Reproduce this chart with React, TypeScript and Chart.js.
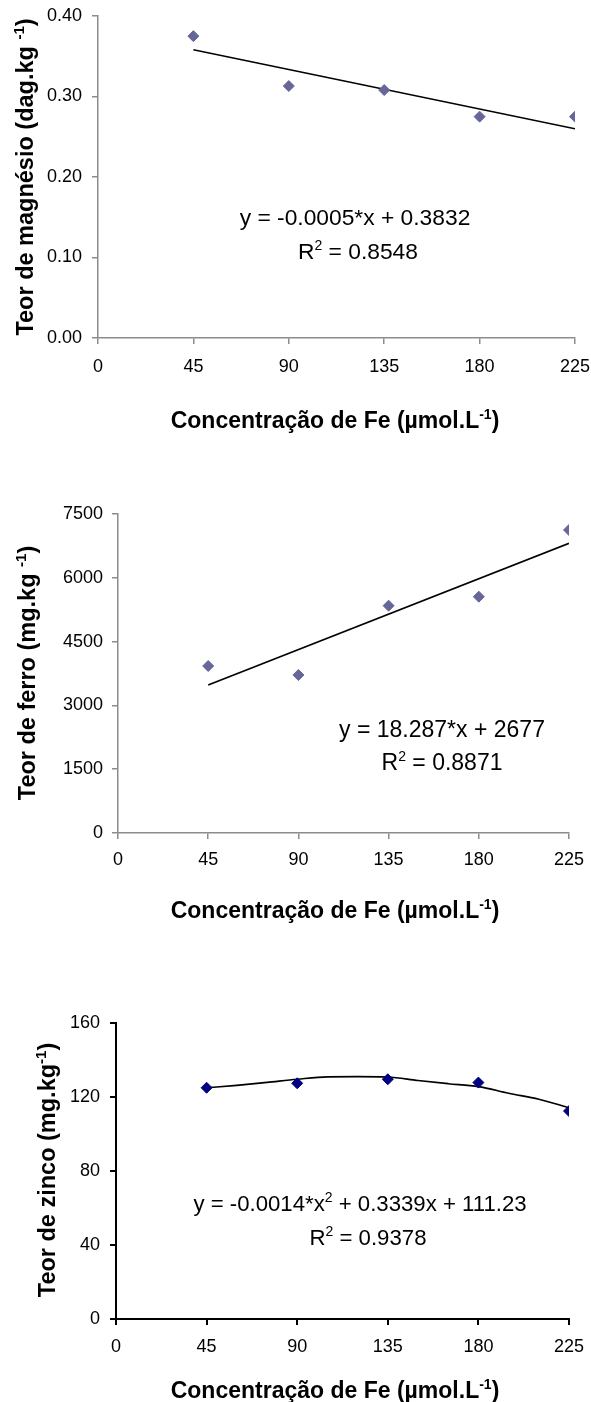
import React, { useEffect, useRef } from "react";
import { Chart, registerables } from "chart.js";

Chart.register(...registerables);

// ---------- data ----------
const feLevels = [45, 90, 135, 180, 225];

const magnesio = [0.375, 0.313, 0.308, 0.275, 0.275];
const magnesioTrendX = [45, 225];
const magnesioTrendY = [0.358, 0.26];

const ferro = [3926, 3715, 5344, 5556, 7124];
const ferroTrendX = [45, 225];
const ferroTrendY = [3480, 6811];

const zinco = [125.0, 127.4, 129.6, 127.8, 112.4];
const zincoCurveX = [45, 60, 75, 90, 105, 120, 135, 150, 165, 180, 195, 210, 225];
const zincoCurveY = [125.0, 126.3, 127.9, 129.6, 130.9, 131.0, 130.8, 128.9, 127.2, 125.6, 122.0, 118.8, 114.2];

const xTickLabels = ["0", "45", "90", "135", "180", "225"];
const magTickLabels = ["0.00", "0.10", "0.20", "0.30", "0.40"];
const ferroTickLabels = ["0", "1500", "3000", "4500", "6000", "7500"];
const zincoTickLabels = ["0", "40", "80", "120", "160"];

const eqMag = ["y = -0.0005*x + 0.3832", "0.8548"];
const eqFerro = ["y = 18.287*x + 2677", "0.8871"];
const eqZinco = ["y = -0.0014*x", " + 0.3339x + 111.23", "0.9378"];

// ---------- helpers ----------
const FAMILY = '"Liberation Sans", Arial, Helvetica, sans-serif';

type Seg = { t: string; sup?: boolean };
type RichItem = { segs: Seg[]; x: number; y: number; size: number; bold?: boolean; rotate?: boolean };

function drawRich(ctx: CanvasRenderingContext2D, item: RichItem) {
  const { segs, x, y, size, bold, rotate } = item;
  const supSize = Math.round(size * 0.62);
  const f = (s: number) => `${bold ? "bold " : ""}${s}px ${FAMILY}`;
  ctx.save();
  ctx.translate(x, y);
  if (rotate) ctx.rotate(-Math.PI / 2);
  let total = 0;
  const widths: number[] = [];
  for (const s of segs) {
    ctx.font = f(s.sup ? supSize : size);
    const w = ctx.measureText(s.t).width;
    widths.push(w);
    total += w;
  }
  let cx = -total / 2;
  const base = size * 0.358;
  ctx.fillStyle = "#000";
  ctx.textAlign = "left";
  ctx.textBaseline = "alphabetic";
  segs.forEach((s, i) => {
    ctx.font = f(s.sup ? supSize : size);
    ctx.fillText(s.t, cx, s.sup ? base - size * 0.42 : base);
    cx += widths[i];
  });
  ctx.restore();
}

type PanelCfg = {
  top: number;
  height: number;
  yWidth: number;
  xHeight: number;
  padTop: number;
  padRight: number;
  yMax: number;
  yStep: number;
  yLabels: string[];
  values: number[];
  lineX: number[];
  lineY: number[];
  smooth: boolean;
  markerColor: string;
  axisColor: string;
  axisWidth: number;
  xPad: number;
  yPad: number;
  texts: RichItem[];
};

function Panel({ cfg }: { cfg: PanelCfg }) {
  const ref = useRef<HTMLCanvasElement | null>(null);
  useEffect(() => {
    if (!ref.current) return;
    const textPlugin = {
      id: "richTexts",
      afterDraw(chart: any) {
        const ctx = chart.ctx as CanvasRenderingContext2D;
        for (const it of cfg.texts) drawRich(ctx, { ...it, y: it.y - cfg.top });
      },
    };
    const tickFont = { family: FAMILY, size: 18 };
    const chart = new Chart(ref.current, {
      type: "scatter",
      data: {
        datasets: [
          {
            data: feLevels.map((x, i) => ({ x, y: cfg.values[i] })),
            pointStyle: "rectRot",
            pointRadius: 5.5,
            pointBorderWidth: 1,
            backgroundColor: cfg.markerColor,
            borderColor: cfg.markerColor,
            showLine: false,
          },
          {
            data: cfg.lineX.map((x, i) => ({ x, y: cfg.lineY[i] })),
            showLine: true,
            pointRadius: 0,
            borderColor: "#000",
            borderWidth: 1.6,
            tension: cfg.smooth ? 0.4 : 0,
            cubicInterpolationMode: cfg.smooth ? "monotone" : "default",
          } as any,
        ],
      },
      options: {
        animation: false,
        responsive: false,
        events: [],
        layout: { padding: { top: cfg.padTop, right: cfg.padRight, left: 0, bottom: 0 } },
        plugins: { legend: { display: false }, tooltip: { enabled: false } },
        scales: {
          x: {
            type: "linear",
            min: 0,
            max: 225,
            afterFit: (s: any) => {
              s.height = cfg.xHeight;
              s.paddingLeft = 0;
              s.paddingRight = 0;
            },
            afterBuildTicks: (s: any) => {
              s.ticks = xTickLabels.map((l) => ({ value: Number(l) }));
            },
            ticks: {
              font: tickFont,
              color: "#000",
              padding: cfg.xPad,
              maxRotation: 0,
              autoSkip: false,
              callback: (_v: any, i: number) => xTickLabels[i],
            },
            grid: {
              drawOnChartArea: false,
              drawTicks: true,
              tickLength: 6,
              color: cfg.axisColor,
              lineWidth: cfg.axisWidth,
            },
            border: { color: cfg.axisColor, width: cfg.axisWidth },
          },
          y: {
            type: "linear",
            min: 0,
            max: cfg.yMax,
            afterFit: (s: any) => {
              s.width = cfg.yWidth;
              s.paddingTop = 0;
              s.paddingBottom = 0;
            },
            afterBuildTicks: (s: any) => {
              s.ticks = cfg.yLabels.map((_l, i) => ({ value: i * cfg.yStep }));
            },
            ticks: {
              font: tickFont,
              color: "#000",
              padding: cfg.yPad,
              autoSkip: false,
              callback: (_v: any, i: number) => cfg.yLabels[i],
            },
            grid: {
              drawOnChartArea: false,
              drawTicks: true,
              tickLength: 6,
              color: cfg.axisColor,
              lineWidth: cfg.axisWidth,
            },
            border: { color: cfg.axisColor, width: cfg.axisWidth },
          },
        },
      } as any,
      plugins: [textPlugin],
    });
    return () => chart.destroy();
  }, [cfg]);
  return (
    <canvas
      ref={ref}
      width={591}
      height={cfg.height}
      style={{ position: "absolute", left: 0, top: cfg.top, width: 591, height: cfg.height }}
    />
  );
}

const xTitle = (y: number): RichItem => ({
  segs: [{ t: "Concentração de Fe (µmol.L" }, { t: "-1", sup: true }, { t: ")" }],
  x: 335,
  y,
  size: 23,
  bold: true,
});

const GRAY = "#8c8c8c";

const panel1: PanelCfg = {
  top: 0,
  height: 460,
  yWidth: 98,
  xHeight: 122,
  padTop: 16,
  padRight: 16,
  yMax: 0.4,
  yStep: 0.1,
  yLabels: magTickLabels,
  values: magnesio,
  lineX: magnesioTrendX,
  lineY: magnesioTrendY,
  smooth: false,
  markerColor: "#666699",
  axisColor: GRAY,
  axisWidth: 1.5,
  xPad: 12,
  yPad: 10,
  texts: [
    {
      segs: [{ t: "Teor de magnésio (dag.kg " }, { t: "-1", sup: true }, { t: ")" }],
      x: 25,
      y: 177,
      size: 23.5,
      bold: true,
      rotate: true,
    },
    xTitle(420),
    { segs: [{ t: eqMag[0] }], x: 355, y: 217, size: 22.8 },
    { segs: [{ t: "R" }, { t: "2", sup: true }, { t: " = " + eqMag[1] }], x: 358, y: 251, size: 22.8 },
  ],
};

const panel2: PanelCfg = {
  top: 460,
  height: 480,
  yWidth: 118,
  xHeight: 107,
  padTop: 54,
  padRight: 22,
  yMax: 7500,
  yStep: 1500,
  yLabels: ferroTickLabels,
  values: ferro,
  lineX: ferroTrendX,
  lineY: ferroTrendY,
  smooth: false,
  markerColor: "#666699",
  axisColor: GRAY,
  axisWidth: 1.5,
  xPad: 10,
  yPad: 9,
  texts: [
    {
      segs: [{ t: "Teor de ferro (mg.kg " }, { t: "-1", sup: true }, { t: ")" }],
      x: 27,
      y: 673,
      size: 23.5,
      bold: true,
      rotate: true,
    },
    xTitle(910),
    { segs: [{ t: eqFerro[0] }], x: 442, y: 729, size: 23 },
    { segs: [{ t: "R" }, { t: "2", sup: true }, { t: " = " + eqFerro[1] }], x: 442, y: 762, size: 23 },
  ],
};

const panel3: PanelCfg = {
  top: 940,
  height: 462,
  yWidth: 116,
  xHeight: 83,
  padTop: 83,
  padRight: 22,
  yMax: 160,
  yStep: 40,
  yLabels: zincoTickLabels,
  values: zinco,
  lineX: zincoCurveX,
  lineY: zincoCurveY,
  smooth: true,
  markerColor: "#000080",
  axisColor: "#000",
  axisWidth: 2,
  xPad: 11,
  yPad: 10,
  texts: [
    {
      segs: [{ t: "Teor de zinco (mg.kg" }, { t: "-1", sup: true }, { t: ")" }],
      x: 47,
      y: 1170,
      size: 23.5,
      bold: true,
      rotate: true,
    },
    xTitle(1390),
    {
      segs: [{ t: eqZinco[0] }, { t: "2", sup: true }, { t: eqZinco[1] }],
      x: 360,
      y: 1203,
      size: 22.2,
    },
    { segs: [{ t: "R" }, { t: "2", sup: true }, { t: " = " + eqZinco[2] }], x: 368, y: 1237, size: 22.2 },
  ],
};

export default function App() {
  return (
    <div style={{ position: "absolute", left: 0, top: 0, width: 591, height: 1402, background: "#fff" }}>
      <Panel cfg={panel1} />
      <Panel cfg={panel2} />
      <Panel cfg={panel3} />
    </div>
  );
}
